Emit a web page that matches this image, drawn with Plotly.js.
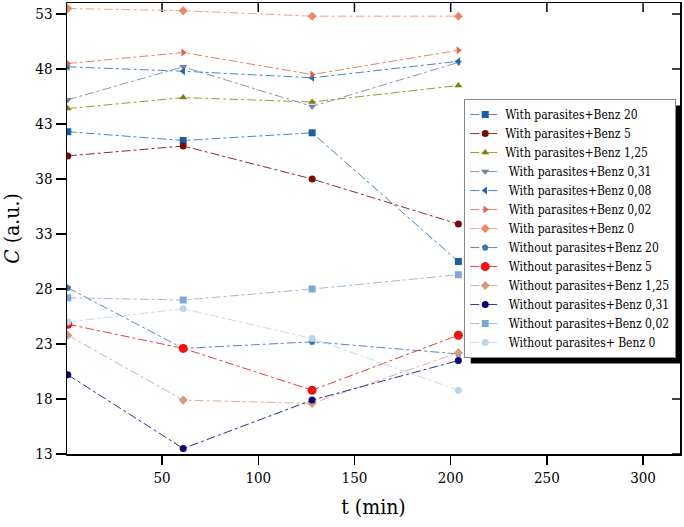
<!DOCTYPE html>
<html>
<head>
<meta charset="utf-8">
<script src="https://cdn.plot.ly/plotly-3.0.1.min.js"></script>
<style>
html,body{margin:0;padding:0;background:#fff;}
#chart{width:684px;height:527px;}
</style>
</head>
<body>
<div id="chart"></div>
<script>
// Time points (min)
const times = [1, 61, 128, 204];

// Series names
const names = [
  "With parasites+Benz 20",
  "With parasites+Benz 5",
  "With parasites+Benz 1,25",
  " With parasites+Benz 0,31",
  " With parasites+Benz 0,08",
  " With parasites+Benz 0,02",
  " With parasites+Benz 0",
  " Without parasites+Benz 20",
  " Without parasites+Benz 5",
  " Without parasites+Benz 1,25",
  " Without parasites+Benz 0,31",
  " Without parasites+Benz 0,02",
  " Without parasites+ Benz 0"
];

// Series values C (a.u.)
const withBenz20   = [42.3, 41.5, 42.2, 30.5];
const withBenz5    = [40.1, 41.0, 38.0, 33.9];
const withBenz125  = [44.4, 45.4, 45.0, 46.5];
const withBenz031  = [45.2, 48.2, 44.6, 48.6];
const withBenz008  = [48.2, 47.8, 47.2, 48.7];
const withBenz002  = [48.5, 49.5, 47.5, 49.7];
const withBenz0    = [53.5, 53.3, 52.8, 52.8];
const woBenz20     = [28.1, 22.6, 23.2, 22.1];
const woBenz5      = [24.8, 22.6, 18.8, 23.8];
const woBenz125    = [23.8, 17.9, 17.6, 22.2];
const woBenz031    = [20.2, 13.5, 17.9, 21.5];
const woBenz002    = [27.2, 27.0, 28.0, 29.3];
const woBenz0      = [25.0, 26.2, 23.5, 18.8];

// Axis ticks
const yTicks = [13, 18, 23, 28, 33, 38, 43, 48, 53];
const xTicks = [50, 100, 150, 200, 250, 300];

const seriesValues = [withBenz20, withBenz5, withBenz125, withBenz031, withBenz008, withBenz002, withBenz0,
                      woBenz20, woBenz5, woBenz125, woBenz031, woBenz002, woBenz0];
const markerColors = ["#1a5fa3", "#7a0a0a", "#7d7d12", "#7382a3", "#2466ae", "#e2604c", "#e8896a",
                      "#3d6f9f", "#f21010", "#d49a7c", "#0b0b6e", "#7ea8d2", "#bcd3ec"];
const lineColors   = ["#4f86bb", "#8f2a2a", "#9a9a30", "#8a96b4", "#4f86bb", "#e88070", "#eea58a",
                      "#5c88b4", "#e84040", "#ddb09a", "#30308a", "#9cbcdc", "#c8dcf0"];
const symbols = ["square", "circle", "triangle-up", "triangle-down", "triangle-left", "triangle-right", "diamond",
                 "pentagon", "circle", "diamond", "circle", "square", "circle"];

const traces = names.map((n, i) => ({
  x: times,
  y: seriesValues[i],
  name: n,
  type: "scatter",
  mode: "lines+markers",
  line: {color: lineColors[i], width: 1, dash: "dashdot"},
  marker: {color: markerColors[i], symbol: symbols[i], size: i === 8 ? 9 : 7}
}));

const xRange = [0.6, 319.2], yRange = [13, 54];
const plotW = 613, plotH = 451;   // plot area size in px (684-67-4, 527-3-73)
const fx = v => (v - xRange[0]) / (xRange[1] - xRange[0]);
const fy = v => (v - yRange[0]) / (yRange[1] - yRange[0]);
// inward mirror ticks on the top and right frame, at the axis tick values
const tickShapes = [];
xTicks.forEach(v => tickShapes.push({type: "rect", xref: "paper", yref: "paper",
  x0: fx(v) - 0.75 / plotW, x1: fx(v) + 0.75 / plotW, y0: 1 - 9 / plotH, y1: 1,
  fillcolor: "#000", line: {width: 0}, layer: "below"}));
yTicks.forEach(v => tickShapes.push({type: "rect", xref: "paper", yref: "paper",
  y0: fy(v) - 0.75 / plotH, y1: fy(v) + 0.75 / plotH, x0: 1 - 8 / plotW, x1: 1,
  fillcolor: "#000", line: {width: 0}, layer: "below"}));

const font = "DejaVu Serif Condensed, DejaVu Serif";
const layout = {
  width: 684, height: 527,
  margin: {l: 67, r: 4, t: 3, b: 73},
  paper_bgcolor: "#fff", plot_bgcolor: "#fff",
  showlegend: true,
  font: {family: font, color: "#000", size: 13},
  xaxis: {
    range: xRange, tickvals: xTicks, ticks: "outside", ticklen: 9, tickwidth: 1.5, tickcolor: "#000",
    showline: true, linewidth: 1.5, linecolor: "#000", mirror: true, showgrid: false, zeroline: false,
    tickfont: {family: font, size: 15},
    title: {text: "t (min)", font: {family: font, size: 21}, standoff: 14}
  },
  yaxis: {
    range: yRange, tickvals: yTicks, ticks: "outside", ticklen: 10, tickwidth: 1.5, tickcolor: "#000",
    showline: true, linewidth: 1.5, linecolor: "#000", mirror: true, showgrid: false, zeroline: false,
    tickfont: {family: font, size: 15},
    title: {text: "<i>C</i> (a.u.)", font: {family: font, size: 21}, standoff: 14}
  },
  legend: {
    x: 0.648, y: 0.787, xanchor: "left", yanchor: "top",
    bgcolor: "#fff", bordercolor: "#888", borderwidth: 1,
    font: {family: font, size: 12}, tracegroupgap: 0, itemwidth: 30
  },
  shapes: tickShapes
};

Plotly.newPlot("chart", traces, layout, {displayModeBar: false, staticPlot: true}).then(gd => {
  // drop shadow behind the legend box, offset 6 px right and down
  const bg = gd.querySelector(".legend .bg");
  if (!bg) return;
  const b = bg.getBoundingClientRect();
  const root = gd.getBoundingClientRect();
  const left = 67, top = 3, off = 6;
  const px = v => (v - root.left - left) / plotW;
  const py = v => 1 - (v - root.top - top) / plotH;
  const shadow = {type: "rect", xref: "paper", yref: "paper", layer: "below",
    x0: px(b.left + off), x1: px(b.right + off), y0: py(b.bottom + off), y1: py(b.top + off),
    fillcolor: "#000", line: {width: 0}};
  Plotly.relayout(gd, {shapes: tickShapes.concat([shadow])});
});
</script>
</body>
</html>
